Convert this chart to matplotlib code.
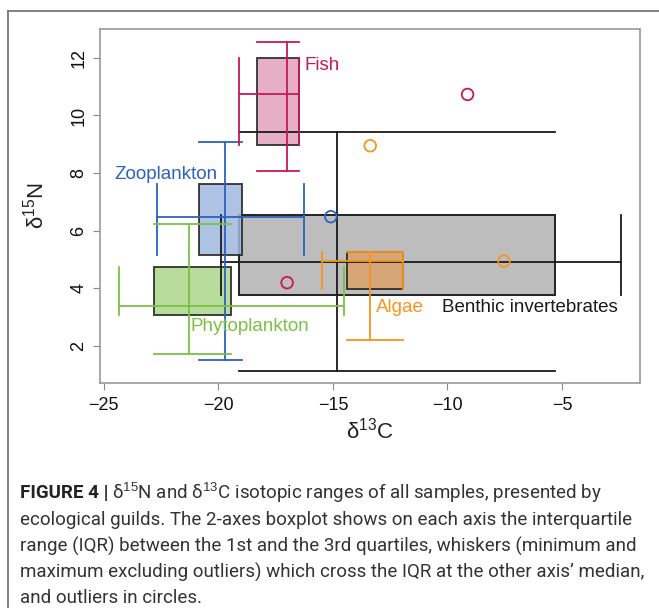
import matplotlib
matplotlib.use("Agg")
import matplotlib.pyplot as plt
from matplotlib.patches import Rectangle
from matplotlib.lines import Line2D

plt.rcParams['font.family'] = ['Liberation Sans', 'DejaVu Sans']
plt.rcParams['mathtext.fontset'] = 'custom'
plt.rcParams['mathtext.rm'] = 'Liberation Sans'
plt.rcParams['mathtext.it'] = 'Liberation Sans:italic'

# Datos: cuartiles, medianas, bigotes (d13C = x, d15N = y)
grupos = ["Benthic invertebrates", "Algae", "Zooplankton", "Phytoplankton", "Fish"]
colores = ["#1a1a1a", "#F7941D", "#2B62C0", "#7AC143", "#C8185A"]
rellenos = ["#bdbdbd", "#dca36a", "#a0b8de", "#acd68a", "#e3a1bb"]

x_q1 = [-19.12, -14.40, -20.84, -22.80, -18.31]
x_q3 = [-5.31, -11.93, -18.97, -19.44, -16.48]
x_med = [-14.80, -13.37, -19.73, -21.30, -17.00]
x_min = [-19.89, -15.48, -22.67, -24.33, -19.12]
x_max = [-2.44, -11.93, -16.27, -14.51, -16.48]

y_q1 = [3.78, 3.99, 5.16, 3.08, 8.98]
y_q3 = [6.54, 5.26, 7.61, 4.75, 12.00]
y_med = [4.91, 4.95, 6.49, 3.39, 10.74]
y_min = [1.13, 2.20, 1.50, 1.71, 8.09]
y_max = [9.41, 5.26, 9.09, 6.23, 12.56]

outliers_x = [[], [-13.37, -7.53], [-15.09], [], [-9.12, -17.00]]
outliers_y = [[], [8.95, 4.95], [6.49], [], [10.73, 4.20]]

etiqueta_x = [-10.25, -13.12, -24.52, -21.2, -16.22]
etiqueta_y = [3.33, 3.33, 7.95, 2.67, 11.72]

fig = plt.figure(figsize=(6.59, 6.08), dpi=100)
ax = fig.add_axes([0.1517, 0.3701, 0.8195, 0.5822])

# 1. Cajas
for i in range(len(grupos)):
    caja = Rectangle((x_q1[i], y_q1[i]), x_q3[i] - x_q1[i], y_q3[i] - y_q1[i],
                     facecolor=rellenos[i], edgecolor="#222222", lw=1.4,
                     alpha=0.85 if i > 0 else 1.0, zorder=2)
    ax.add_patch(caja)

# 2. Bigotes cruzando la caja en la mediana del otro eje
for i in range(len(grupos)):
    c = colores[i]
    lw = 1.3
    ax.plot([x_min[i], x_max[i]], [y_med[i], y_med[i]], color=c, lw=lw, zorder=3)
    ax.plot([x_min[i], x_min[i]], [y_q1[i], y_q3[i]], color=c, lw=lw, zorder=3)
    ax.plot([x_max[i], x_max[i]], [y_q1[i], y_q3[i]], color=c, lw=lw, zorder=3)
    ax.plot([x_med[i], x_med[i]], [y_min[i], y_max[i]], color=c, lw=lw, zorder=3)
    ax.plot([x_q1[i], x_q3[i]], [y_min[i], y_min[i]], color=c, lw=lw, zorder=3)
    ax.plot([x_q1[i], x_q3[i]], [y_max[i], y_max[i]], color=c, lw=lw, zorder=3)
    ax.scatter(outliers_x[i], outliers_y[i], s=70, facecolors="none",
               edgecolors=c, linewidths=1.3, zorder=4)
    ax.text(etiqueta_x[i], etiqueta_y[i], grupos[i], color=c, fontsize=13.5,
            ha="left", va="center", zorder=5)

ax.set_xlim(-25.17, -1.59)
ax.set_ylim(0.72, 13.0)
ax.set_xticks([-25, -20, -15, -10, -5])
ax.set_yticks([2, 4, 6, 8, 10, 12])
ax.set_xticklabels(["\u221225", "\u221220", "\u221215", "\u221210", "\u22125"])
ax.tick_params(axis="both", direction="out", length=5, color="#888888",
               labelsize=13, labelcolor="#111111", pad=4)
ax.tick_params(axis="x", pad=5)
ax.tick_params(axis="y", labelrotation=90)
for lab in ax.get_yticklabels():
    lab.set_va("center")
for s in ax.spines.values():
    s.set_color("#999999")
    s.set_linewidth(1.2)

ax.set_xlabel("δ$^{13}$C", fontsize=16, color="#222222", labelpad=3)
ax.set_ylabel("δ$^{15}$N", fontsize=16, color="#222222")
ax.yaxis.set_label_coords(-0.095, 0.5)

# Marco de la figura
fig.add_artist(Line2D([8 / 659, 1], [1 - 11 / 608, 1 - 11 / 608], color="#777777", lw=1.3))
fig.add_artist(Line2D([8 / 659, 8 / 659], [0, 1 - 11 / 608], color="#777777", lw=1.3))

# Leyenda de la figura
fam = ['Roboto', 'DejaVu Sans']
lineas = [
    "δ$^{15}$N and δ$^{13}$C isotopic ranges of all samples, presented by",
    "ecological guilds. The 2-axes boxplot shows on each axis the interquartile",
    "range (IQR) between the 1st and the 3rd quartiles, whiskers (minimum and",
    "maximum excluding outliers) which cross the IQR at the other axis\u2019 median,",
    "and outliers in circles.",
]
ys = [492.7, 520, 546.7, 572.7, 598]
x0 = 20 / 659
fig.canvas.draw()
renderer = fig.canvas.get_renderer()
negrita = fig.text(x0, 1 - ys[0] / 608, "FIGURE 4 |", fontsize=13.5, fontweight="bold",
                   family=fam, color="#222222", va="center")
bb = negrita.get_window_extent(renderer)
for k, (t, yy) in enumerate(zip(lineas, ys)):
    xx = x0 if k > 0 else (bb.x1 + 4) / fig.bbox.width
    fig.text(xx, 1 - yy / 608, t, fontsize=13.5, family=fam,
             color="#333333", va="center")

plt.savefig("out.png", dpi=100)
plt.close()
